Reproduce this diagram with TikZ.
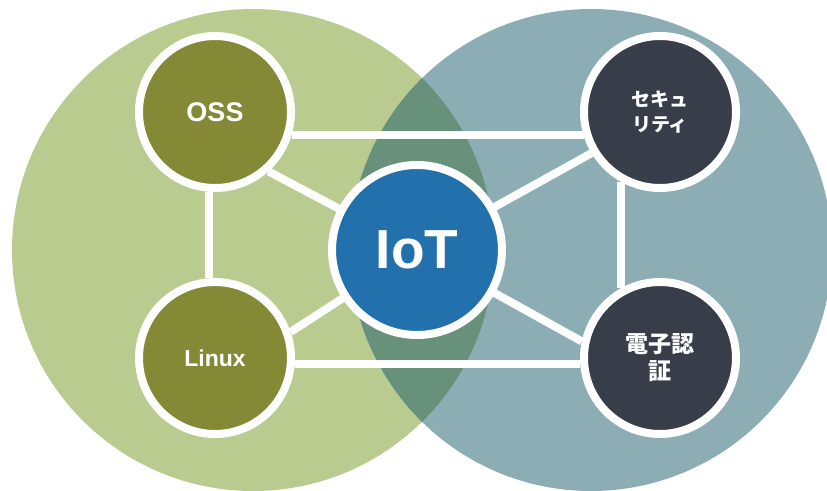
\documentclass[tikz,border=0pt]{standalone}
\usepackage{fontspec}
\setmainfont{Liberation Sans}
\newfontfamily\cjk{Noto Sans CJK JP}
\usetikzlibrary{backgrounds}
\definecolor{lgreen}{RGB}{185,203,143}
\definecolor{lblue}{RGB}{140,173,180}
\definecolor{lens}{RGB}{103,145,122}
\definecolor{olive}{RGB}{131,137,53}
\definecolor{iotblue}{RGB}{34,113,172}
\definecolor{slate}{RGB}{55,62,74}
\tikzset{
  bubble/.style={circle, draw=white, line width=8pt, minimum size=152pt, inner sep=0pt, text=white, font=\bfseries, align=center},
  hub/.style={bubble, minimum size=170pt, fill=iotblue},
  link/.style={draw=white, line width=8pt}
}
\begin{document}
\begin{tikzpicture}[x=1pt,y=-1pt]
\useasboundingbox (0,0) rectangle (827,490);
\clip (0,0) rectangle (827,490);
\node[bubble, fill=olive, font=\bfseries\fontsize{27}{30}\selectfont] (oss) at (215,112) {OSS};
\node[bubble, fill=olive, font=\bfseries\fontsize{23}{26}\selectfont] (linux) at (215,358) {Linux};
\node[bubble, fill=slate, font=\cjk\bfseries\fontsize{19}{25}\selectfont] (sec) at (660,112) {セキュ\\リティ};
\node[bubble, fill=slate, font=\cjk\bfseries\fontsize{23}{27}\selectfont] (den) at (660,358) {電子認\\証};
\node[hub, font=\bfseries\fontsize{55}{60}\selectfont] (iot) at (417,250) {IoT};
\begin{scope}[on background layer]
  \fill[lgreen] (253,250) circle (241pt);
  \fill[lblue] (591,250) circle (241pt);
  \begin{scope}
    \clip (253,250) circle (241pt);
    \fill[lens] (591,250) circle (241pt);
  \end{scope}
  \path[link] (oss.-17.5) -- (sec.197.5);
  \path[link] (linux.-4) -- (den.184);
  \path[link] (oss.-94) -- (linux.94);
  \path[link] (sec.241) -- (den.119);
  \path[link] (iot.center) -- (oss.-48);
  \path[link] (iot.center) -- (linux.19);
  \path[link] (iot.center) -- (sec.211);
  \path[link] (iot.center) -- (den.168);
\end{scope}
\end{tikzpicture}
\end{document}
